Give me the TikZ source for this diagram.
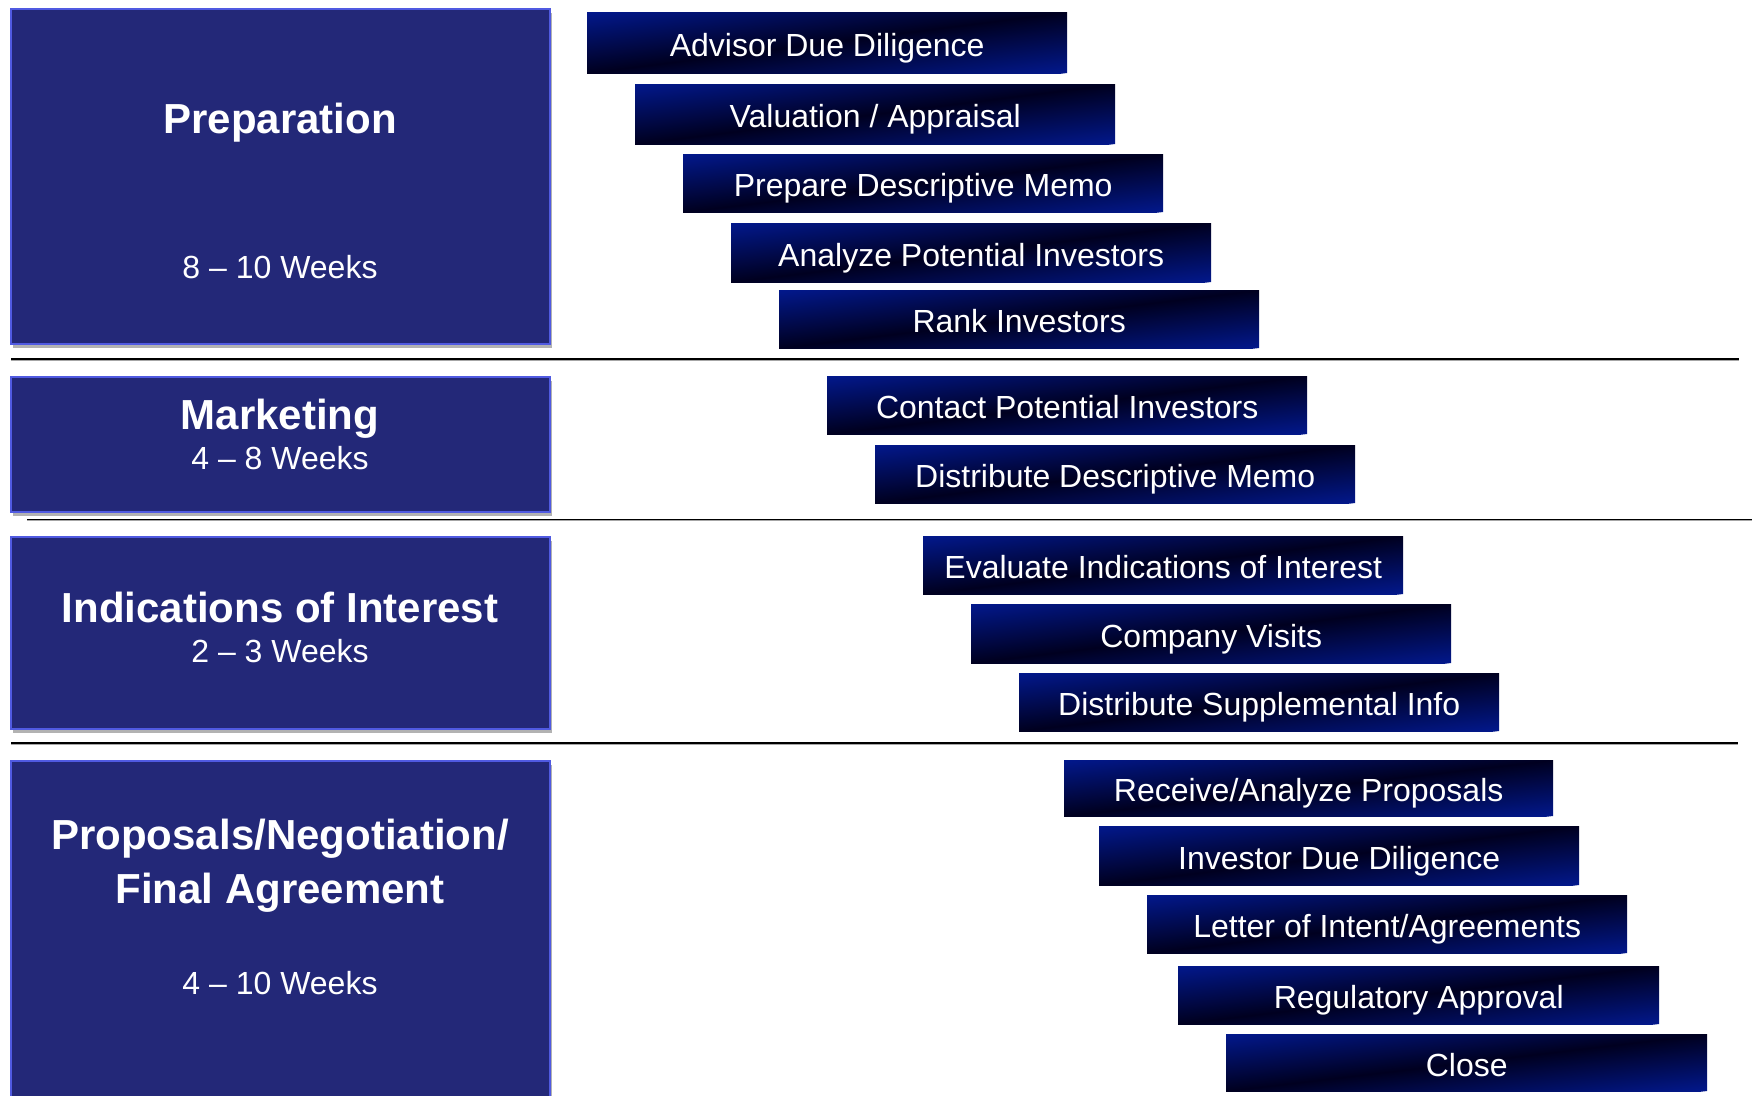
\documentclass[tikz,border=0pt]{standalone}
\usepackage{fontspec}
\setmainfont{Liberation Sans}
\usetikzlibrary{shadows}
\definecolor{phasefill}{RGB}{35,40,120}
\definecolor{phaseedge}{RGB}{80,90,225}
\definecolor{barblue}{RGB}{2,24,140}
\definecolor{bardark}{RGB}{0,0,32}
\tikzset{
  phasebox/.style={draw=phaseedge, line width=1.5pt, fill=phasefill, inner sep=0pt,
    anchor=north west, minimum width=539pt,
    drop shadow={shadow xshift=2pt, shadow yshift=-4pt, fill=black, opacity=0.3}},
  phasetitle/.style={anchor=base, text=white, inner sep=0pt,
    font=\bfseries\fontsize{42}{48}\selectfont},
  phaseweeks/.style={anchor=base, text=white, inner sep=0pt,
    font=\fontsize{32}{38}\selectfont},
  sepline/.style={line width=1.2pt, black},
  sepshade/.style={line width=1pt, black!35},
  taskbar/.style 2 args={rectangle, inner sep=0pt, anchor=north west,
    text=white, font=\fontsize{32}{38}\selectfont,
    text height=27pt, text depth=0pt,
    minimum width=#1pt, minimum height=#2pt},
  bargrad/.style={top color=barblue, bottom color=barblue, middle color=bardark}
}
% gradient of a bar: x, ytop, w, h (picture units, y downwards)
\newcommand\bargradient[4]{%
  \begin{scope}
    \clip (#1,#2) rectangle ++(#3,#4);
    \begin{scope}[transform canvas={shift={(#1pt,{-(#2+#4)*1pt})}, yslant={#4/#3}}]
      \shade[bargrad] (0pt,-#4pt) rectangle (#3pt,#4pt);
    \end{scope}
  \end{scope}}
\newcommand\taskitem[6]{% name, x, ytop, w, h, text
  \bargradient{#2}{#3}{#4}{#5}
  \node[taskbar={#4}{#5}] (#1) at (#2,#3) {#6};}
\begin{document}
\begin{tikzpicture}[x=1pt,y=-1pt]
\useasboundingbox (0,0) rectangle (1752,1095);
\clip (0,0) rectangle (1752,1095);
\fill[white] (0,0) rectangle (1752,1095);

% phase boxes
\node[phasebox, minimum height=335pt] (prep) at (10,8) {};
\node[phasebox, minimum height=135pt] (mkt) at (10,376) {};
\node[phasebox, minimum height=192pt] (ioi) at (10,536) {};
\node[phasebox, minimum height=360pt] (prop) at (10,760) {};

% phase texts
\node[phasetitle] (prepT) at (280,133) {Preparation};
\node[phaseweeks] (prepW) at (280,278) {8 – 10 Weeks};
\node[phasetitle] (mktT) at (280,429) {Marketing};
\node[phaseweeks] (mktW) at (280,469) {4 – 8 Weeks};
\node[phasetitle] (ioiT) at (280,622) {Indications of Interest};
\node[phaseweeks] (ioiW) at (280,662) {2 – 3 Weeks};
\node[phasetitle] (propT1) at (280,849) {Proposals/Negotiation/};
\node[phasetitle] (propT2) at (280,903) {Final Agreement};
\node[phaseweeks] (propW) at (280,994) {4 – 10 Weeks};

% separators
\coordinate (s1a) at (11,359);  \coordinate (s1b) at (1739,359);
\coordinate (s1c) at (11,360.4); \coordinate (s1d) at (1739,360.4);
\coordinate (s2a) at (27,519.5);  \coordinate (s2b) at (1752,519.5);
\coordinate (s2c) at (27,520.9); \coordinate (s2d) at (1752,520.9);
\coordinate (s3a) at (11,743);  \coordinate (s3b) at (1738,743);
\coordinate (s3c) at (11,744.4); \coordinate (s3d) at (1738,744.4);
\draw[sepshade] (s1c) -- (s1d);
\draw[sepline] (s1a) -- (s1b);
\draw[sepshade] (s2c) -- (s2d);
\draw[sepline] (s2a) -- (s2b);
\draw[sepshade] (s3c) -- (s3d);
\draw[sepline] (s3a) -- (s3b);

% task bars
\taskitem{t1}{587}{12}{480}{61}{Advisor Due Diligence}
\taskitem{t2}{635}{84}{480}{60}{Valuation / Appraisal}
\taskitem{t3}{683}{154}{480}{58}{Prepare Descriptive Memo}
\taskitem{t4}{731}{223}{480}{59}{Analyze Potential Investors}
\taskitem{t5}{779}{290}{480}{58}{Rank Investors}
\taskitem{t6}{827}{376}{480}{58}{Contact Potential Investors}
\taskitem{t7}{875}{445}{480}{58}{Distribute Descriptive Memo}
\taskitem{t8}{923}{536}{480}{58}{Evaluate Indications of Interest}
\taskitem{t9}{971}{604}{480}{59}{Company Visits}
\taskitem{t10}{1019}{673}{480}{58}{Distribute Supplemental Info}
\taskitem{t11}{1064}{760}{489}{56}{Receive/Analyze Proposals}
\taskitem{t12}{1099}{826}{480}{59}{Investor Due Diligence}
\taskitem{t13}{1147}{895}{480}{58}{Letter of Intent/Agreements}
\taskitem{t14}{1178}{966}{481}{58}{Regulatory Approval}
\taskitem{t15}{1226}{1034}{481}{57}{Close}
\end{tikzpicture}
\end{document}
